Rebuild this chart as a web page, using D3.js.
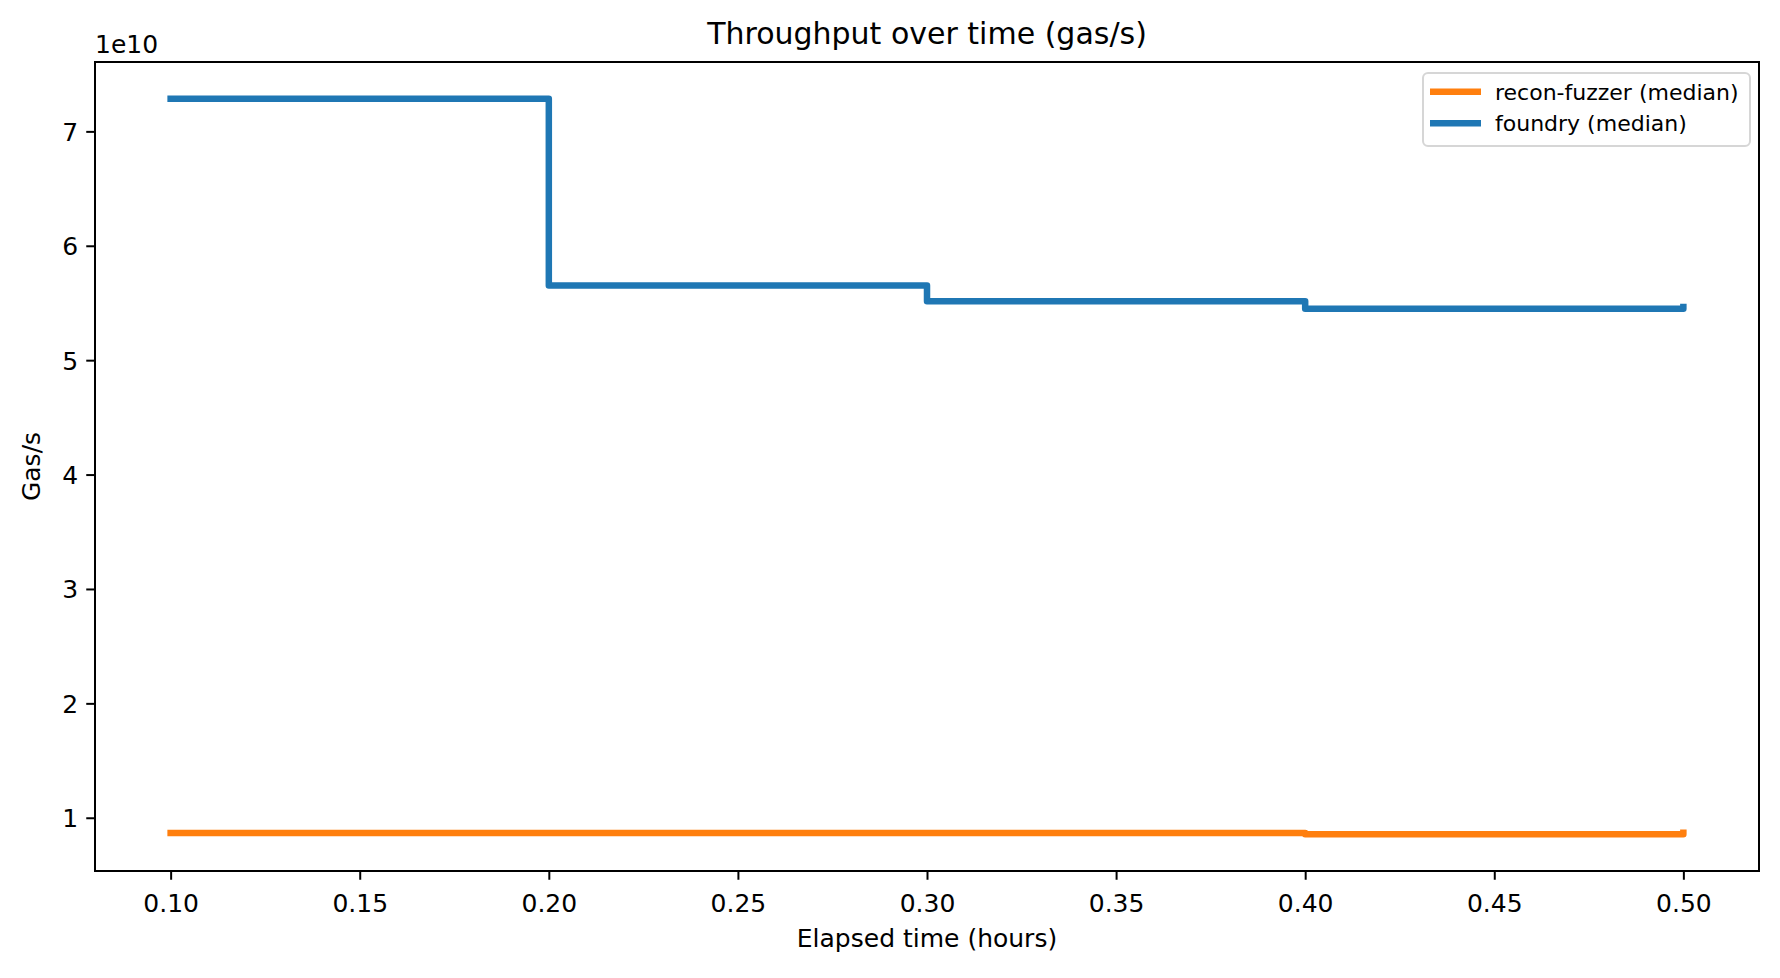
<!doctype html>
<html>
<head>
	<meta charset="utf-8">
	<title>Throughput over time</title>
	<script src="https://d3js.org/d3.v7.min.js"></script>
	<style>
	body { margin: 0; background: #fff; }
	svg text { font-family: "DejaVu Sans", sans-serif; fill: #000; }
	.axis path, .axis line { stroke: #000; stroke-width: 2px; }
	</style>
</head>
<body>
<script>

// data (values in gas/s)
var hours = [0.10, 0.20, 0.30, 0.40, 0.50];
var reconMedian = [8.67e9, 8.67e9, 8.665e9, 8.56e9, 8.69e9];
var foundryMedian = [7.285e10, 5.653e10, 5.515e10, 5.449e10, 5.465e10];
var seriesNames = ["recon-fuzzer (median)", "foundry (median)"];
var seriesColors = ["#ff7f0e", "#1f77b4"];
var xTickValues = [0.10, 0.15, 0.20, 0.25, 0.30, 0.35, 0.40, 0.45, 0.50];
var yTickValues = [1e10, 2e10, 3e10, 4e10, 5e10, 6e10, 7e10];

var W = 1780, H = 978;
// plot box (note: "top" is a reserved global in browsers, so keep it in an object)
var box = {left: 95, right: 1759, top: 62, bottom: 871};

var svg = d3.select("body").append("svg")
	.attr("width", W)
	.attr("height", H);

// matplotlib-like 5% margins
function padded(ext) {
	var d = (ext[1] - ext[0]) * 0.05;
	return [ext[0] - d, ext[1] + d];
}

var xScale = d3.scaleLinear()
	.domain(padded(d3.extent(hours)))
	.range([box.left, box.right]);

var yScale = d3.scaleLinear()
	.domain(padded(d3.extent(reconMedian.concat(foundryMedian))))
	.range([box.bottom, box.top]);

// axes
var xAxis = d3.axisBottom(xScale)
	.tickValues(xTickValues)
	.tickSize(8.75)
	.tickPadding(8)
	.tickFormat(d3.format(".2f"));

var yAxis = d3.axisLeft(yScale)
	.tickValues(yTickValues)
	.tickSize(8.75)
	.tickPadding(8)
	.tickFormat(function(d) { return d3.format("d")(d / 1e10); });

var gx = svg.append("g")
	.attr("class", "x axis")
	.attr("transform", "translate(0," + box.bottom + ")")
	.call(xAxis);
gx.select(".domain").remove();
gx.selectAll("text").attr("font-size", 25).attr("dy", "0.98em");

var gy = svg.append("g")
	.attr("class", "y axis")
	.attr("transform", "translate(" + box.left + ",0)")
	.call(yAxis);
gy.select(".domain").remove();
gy.selectAll("text").attr("font-size", 25).attr("dy", "0.36em");

// the frame
svg.append("rect")
	.attr("x", box.left).attr("y", box.top)
	.attr("width", box.right - box.left).attr("height", box.bottom - box.top)
	.attr("fill", "none")
	.attr("stroke", "#000")
	.attr("stroke-width", 2);

// lines (steps-post)
var line = d3.line()
	.x(function(d) { return xScale(d.x); })
	.y(function(d) { return yScale(d.y); })
	.curve(d3.curveStepAfter);

[reconMedian, foundryMedian].forEach(function(vals, i) {
	var pts = hours.map(function(h, j) { return {x: h, y: vals[j]}; });
	svg.append("path")
		.attr("d", line(pts))
		.attr("fill", "none")
		.attr("stroke", seriesColors[i])
		.attr("stroke-width", 6.5)
		.attr("stroke-linejoin", "round")
		.attr("stroke-linecap", "square");
});

// texts
svg.append("text")
	.attr("x", (box.left + box.right) / 2)
	.attr("y", 44)
	.attr("text-anchor", "middle")
	.attr("font-size", 30)
	.text("Throughput over time (gas/s)");

svg.append("text")
	.attr("x", (box.left + box.right) / 2)
	.attr("y", 947)
	.attr("text-anchor", "middle")
	.attr("font-size", 25)
	.text("Elapsed time (hours)");

svg.append("text")
	.attr("transform", "translate(40," + ((box.top + box.bottom) / 2) + ") rotate(-90)")
	.attr("text-anchor", "middle")
	.attr("font-size", 25)
	.text("Gas/s");

svg.append("text")
	.attr("x", box.left)
	.attr("y", 53)
	.attr("font-size", 25)
	.text("1e10");

// legend
var legend = svg.append("g");
legend.append("rect")
	.attr("x", 1423).attr("y", 73)
	.attr("width", 327).attr("height", 73)
	.attr("rx", 5)
	.attr("fill", "#fff")
	.attr("fill-opacity", 0.8)
	.attr("stroke", "#d6d6d6")
	.attr("stroke-width", 2);

seriesNames.forEach(function(name, i) {
	var cy = 91.7 + i * 31.6;
	legend.append("line")
		.attr("x1", 1430).attr("x2", 1481)
		.attr("y1", cy).attr("y2", cy)
		.attr("stroke", seriesColors[i])
		.attr("stroke-width", 6.5);
	legend.append("text")
		.attr("x", 1495)
		.attr("y", cy)
		.attr("dy", "0.36em")
		.attr("font-size", 22)
		.text(name);
});

</script>
</body>
</html>
